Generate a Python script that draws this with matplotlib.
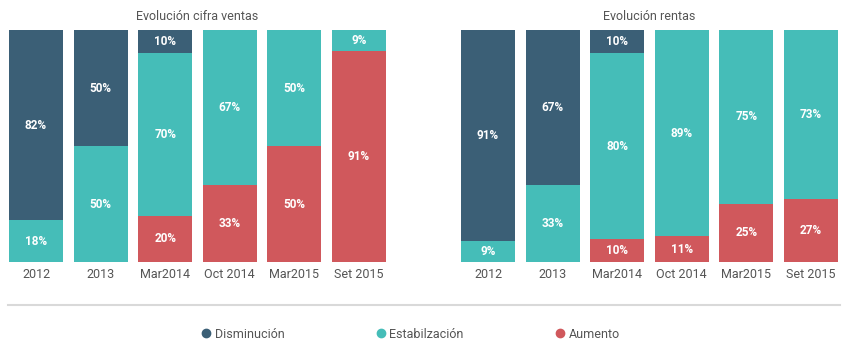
import matplotlib
matplotlib.use("Agg")
import matplotlib.pyplot as plt
from matplotlib.lines import Line2D

plt.rcParams['font.family'] = ['Roboto', 'DejaVu Sans']

periods = ['2012', '2013', 'Mar2014', 'Oct 2014', 'Mar2015', 'Set 2015']

# Evolución cifra ventas
ventas_dism = [82, 50, 10, 0, 0, 0]
ventas_estab = [18, 50, 70, 67, 50, 9]
ventas_aum = [0, 0, 20, 33, 50, 91]

# Evolución rentas
rentas_dism = [91, 67, 10, 0, 0, 0]
rentas_estab = [9, 33, 80, 89, 75, 73]
rentas_aum = [0, 0, 10, 11, 25, 27]

c_dism = '#3b5f76'
c_estab = '#45bdb8'
c_aum = '#d0585c'
txt = '#555555'

W, H = 850, 357
fig = plt.figure(figsize=(8.5, 3.57), dpi=100)


def panel(x0, title, dism, estab, aum):
    ax = fig.add_axes([x0 / W, (H - 262) / H, 377 / W, 232 / H])
    x = list(range(len(periods)))
    bw = 0.836
    ax.bar(x, aum, bw, color=c_aum)
    ax.bar(x, estab, bw, bottom=aum, color=c_estab)
    bot = [a + e for a, e in zip(aum, estab)]
    ax.bar(x, dism, bw, bottom=bot, color=c_dism)
    for i in x:
        base = 0
        for v in (aum[i], estab[i], dism[i]):
            if v > 0:
                ax.text(i, base + v / 2, f'{v}%', ha='center', va='center',
                        color='white', fontsize=8.5, fontweight='bold')
            base += v
    ax.set_xlim(-bw / 2, len(periods) - 1 + bw / 2)
    ax.set_ylim(0, 100)
    ax.set_xticks(x)
    ax.set_xticklabels(periods, fontsize=9, color=txt)
    ax.tick_params(axis='x', length=0, pad=4)
    ax.set_yticks([])
    for s in ax.spines.values():
        s.set_visible(False)
    fig.text((x0 + 377 / 2) / W, 1 - 17 / H, title, ha='center', va='center',
             fontsize=9, color=txt)


panel(9, 'Evolución cifra ventas', ventas_dism, ventas_estab, ventas_aum)
panel(461, 'Evolución rentas', rentas_dism, rentas_estab, rentas_aum)

fig.add_artist(Line2D([8 / W, 840 / W], [1 - 305 / H, 1 - 305 / H],
                      color='#d9d9d9', lw=1.5))

handles = [Line2D([], [], marker='o', ls='', color=c, markersize=6)
           for c in (c_dism, c_estab, c_aum)]
fig.legend(handles, ['Disminución', 'Estabilzación', 'Aumento'],
           loc='center', bbox_to_anchor=(0.482, 1 - 334 / H), ncol=3,
           frameon=False, fontsize=9, labelcolor=txt, handletextpad=0.2,
           columnspacing=7.2, handlelength=1)

fig.savefig('out.png', dpi=100, facecolor='white')
